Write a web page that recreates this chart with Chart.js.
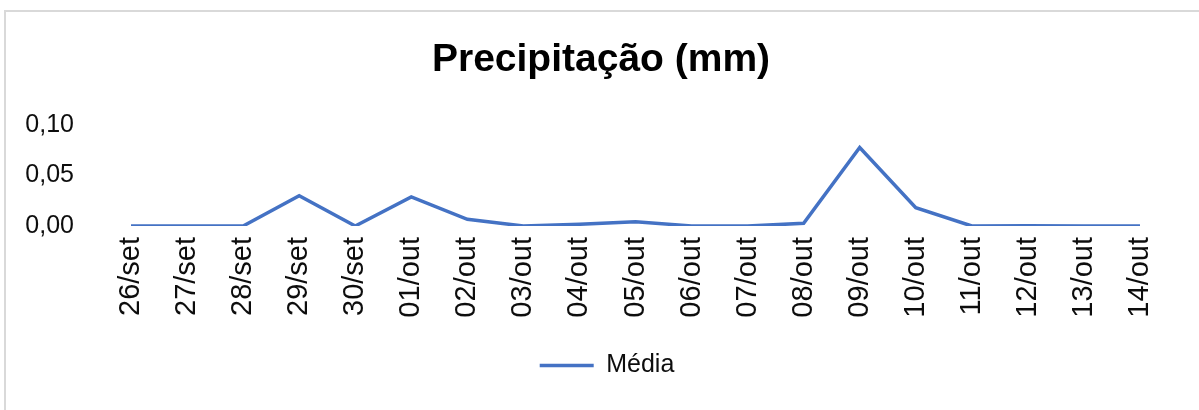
<!DOCTYPE html>
<html>
<head>
<meta charset="utf-8">
<script src="https://cdn.jsdelivr.net/npm/chart.js@4.4.0/dist/chart.umd.min.js"></script>
<style>
  html, body { margin: 0; padding: 0; background: #fff; overflow: hidden; }
  #wrap { position: relative; width: 1199px; height: 410px; }
  #frame { position: absolute; left: 4px; top: 10px; width: 1300px; height: 500px;
           border: 2px solid #d9d9d9; pointer-events: none; }
</style>
</head>
<body>
<div id="wrap">
  <canvas id="grafico" width="1199" height="410"></canvas>
  <div id="frame"></div>
</div>
<script>
const dias = ['26/set', '27/set', '28/set', '29/set', '30/set', '01/out', '02/out', '03/out', '04/out', '05/out',
              '06/out', '07/out', '08/out', '09/out', '10/out', '11/out', '12/out', '13/out', '14/out'];
const media = [0, 0, 0, 0.030, 0, 0.0287, 0.0066, 0, 0.0017, 0.0043,
               0, 0, 0.0026, 0.0775, 0.018, 0, 0.0003, 0, 0];
const ticks_y = [0, 0.05, 0.10];

Chart.defaults.font.family = "'Liberation Sans', Arial, sans-serif";
Chart.defaults.color = '#0d0d0d';

// empurra título e legenda um pouco para a direita, como no Excel
const desloca = {
    id: 'desloca',
    afterLayout: (chart) => {
        chart.titleBlock.left += 17;
        chart.titleBlock.right += 17;
        chart.legend.left += 23;
        chart.legend.right += 23;
    }
};

const grafico = new Chart(document.getElementById('grafico'), {
    type: 'line',
    data: {
        labels: dias,
        datasets: [
            {
                label: 'Média',
                data: media,
                borderColor: '#4472c4',
                backgroundColor: '#4472c4',
                borderWidth: 3.5,
                pointRadius: 0,
                tension: 0,
            }
        ]
    },
    options: {
        responsive: false,
        animation: false,
        layout: {
            padding: { top: 0, left: 0, right: 31, bottom: 22 }
        },
        plugins: {
            title: {
                display: true,
                text: 'Precipitação (mm)',
                color: '#000',
                font: { size: 39, weight: 'bold' },
                padding: { top: 37, bottom: 41 }
            },
            legend: {
                position: 'bottom',
                labels: {
                    usePointStyle: true,
                    pointStyle: 'line',
                    pointStyleWidth: 54,
                    font: { size: 25 },
                    color: '#0d0d0d'
                }
            },
            tooltip: { enabled: false }
        },
        scales: {
            x: {
                offset: true,
                grid: { display: false, drawTicks: false },
                border: { display: false },
                ticks: {
                    minRotation: 90,
                    maxRotation: 90,
                    padding: 11,
                    autoSkip: false,
                    font: { size: 29 }
                },
                afterFit: (scale) => { scale.height = 117; }
            },
            y: {
                min: ticks_y[0],
                max: ticks_y[ticks_y.length - 1],
                grid: { display: false, drawTicks: false },
                border: { display: false },
                afterBuildTicks: (scale) => { scale.ticks = ticks_y.map(v => ({ value: v })); },
                ticks: {
                    padding: 29,
                    font: { size: 25 },
                    callback: (v) => v.toFixed(2).replace('.', ',')
                },
                afterFit: (scale) => { scale.width = 103; }
            }
        }
    },
    plugins: [desloca]
});
</script>
</body>
</html>
